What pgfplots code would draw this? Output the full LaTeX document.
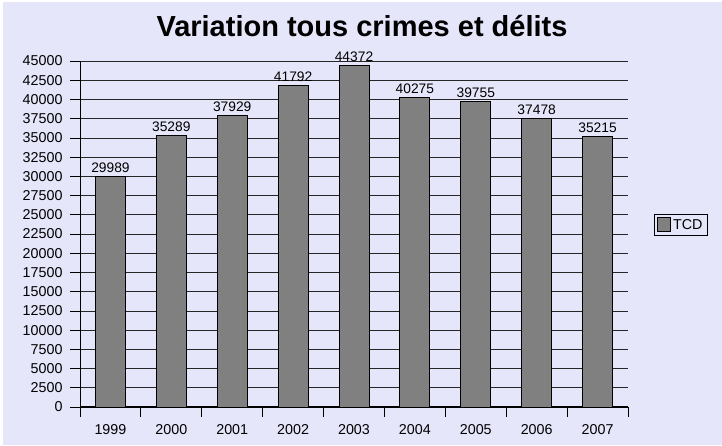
\documentclass[border=0pt]{standalone}
\usepackage{fontspec}
\setmainfont{Liberation Sans}
\usepackage{pgfplots}
\pgfplotsset{compat=1.18}
\definecolor{bg}{RGB}{230,230,250}
\definecolor{bargray}{RGB}{128,128,128}
\begin{document}
\begin{tikzpicture}[x=1pt,y=1pt]
\fill[white] (0,0) rectangle (722,446);
\fill[bg] (3,1) rectangle (722,444);
\node[font=\bfseries\fontsize{29}{33}\selectfont, anchor=base, inner sep=0pt] at (362,409) {Variation tous crimes et délits};
\begin{axis}[at={(80pt,39pt)}, anchor=south west, scale only axis,
  width=548pt, height=346pt,
  xmin=-0.5, xmax=8.5, ymin=0, ymax=45000,
  axis lines*=left,
  x axis line style={black, line width=1.2pt},
  y axis line style={black, line width=0.8pt},
  ybar, bar width=30pt,
  ytick={0,2500,...,45000},
  scaled y ticks=false,
  ymajorgrids, major grid style={black!85, line width=0.6pt},
  ytick style={black, line width=0.6pt},
  tick align=outside, major tick length=10pt,
  xtick={0,...,8},
  xticklabels={1999,2000,2001,2002,2003,2004,2005,2006,2007},
  xtick style={draw=none},
  extra x ticks={-0.5,0.5,...,8.5},
  extra x tick labels={},
  extra x tick style={grid=none, xtick style={draw=black, line width=0.8pt}, major tick length=10pt},
  /pgf/number format/.cd, fixed, precision=0, 1000 sep={},
  /pgfplots/.cd,
  ticklabel style={font=\fontsize{14.3}{16}\selectfont, /pgf/number format/assume math mode=true},
  yticklabel style={xshift=-4pt},
  xticklabel style={yshift=-4pt},
  nodes near coords,
  nodes near coords style={font=\fontsize{13.8}{15}\selectfont, /pgf/number format/assume math mode=true, inner sep=0pt, anchor=base, yshift=4pt},
  legend style={at={(1.0474,0.526)}, anchor=west, draw=black, fill=bg,
    font=\fontsize{14.3}{16}\selectfont, inner xsep=3pt, inner ysep=2.5pt, line width=0.8pt,
    nodes={inner xsep=2pt}},
  legend image code/.code={\draw[fill=bargray, draw=black, line width=0.8pt] (0pt,-6pt) rectangle (13pt,8pt);},
]
\addplot[fill=bargray, draw=black, line width=0.8pt] coordinates {
(0,29989) (1,35289) (2,37929) (3,41792) (4,44372) (5,40275) (6,39755) (7,37478) (8,35215)};
\addlegendentry{TCD}
\end{axis}
\end{tikzpicture}
\end{document}
